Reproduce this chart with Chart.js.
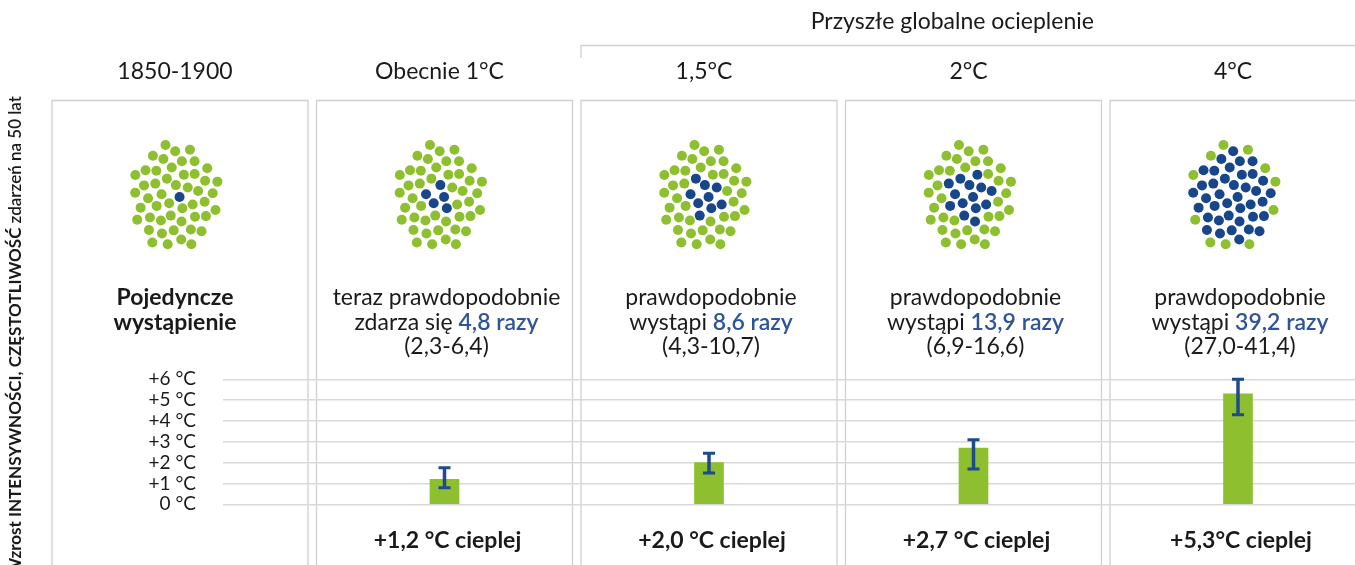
<!DOCTYPE html>
<html lang="pl">
<head>
<meta charset="utf-8">
<script src="https://cdn.jsdelivr.net/npm/chart.js@4.4.1/dist/chart.umd.min.js"></script>
<style>
  html, body { margin: 0; padding: 0; background: #fff; overflow: hidden; }
  #wrap { position: relative; width: 1355px; height: 565px; }
</style>
</head>
<body>
<div id="wrap"><canvas id="chart" width="1355" height="565"></canvas></div>
<script>
// column headers
const periods = ['1850-1900', 'Obecnie 1°C', '1,5°C', '2°C', '4°C'];
// how often a 50-year event occurs (times), with likely range
const frequency = [1, 4.8, 8.6, 13.9, 39.2];
const freqLow = [null, 2.3, 4.3, 6.9, 27.0];
const freqHigh = [null, 6.4, 10.7, 16.6, 41.4];
// blue dots out of 50
const dotsHit = [1, 5, 9, 14, 39];
const dotsTotal = 50;
// increase in intensity (°C)
const barPos = [1, 2, 3, 4];
const warming = [1.2, 2.0, 2.7, 5.3];
const warmingLow = [0.8, 1.5, 1.7, 4.3];
const warmingHigh = [1.75, 2.45, 3.1, 6.0];
const warmingLabels = ['+1,2 °C cieplej', '+2,0 °C cieplej', '+2,7 °C cieplej', '+5,3°C cieplej'];
const yTicks = [0, 1, 2, 3, 4, 5, 6];

const W = 1355, H = 565;
const step = 264.5;        // panel pitch
const firstCenter = 180;   // centre of the first panel
const plotLeft = 223, plotTop = 379.3, plotBottom = 504.3;

const GREEN = '#8dbf2f';
const BLUE_DOT = '#17468a';
const BLUE_TXT = '#2f5597';
const TXT = '#1a1a1a';
const LINE = '#d0d0d0';
const FONT = 'Lato, "Open Sans", sans-serif';

const fmt = v => v.toFixed(1).replace('.', ',');

// sunflower layout for the pictogram, centre first
function dotLayout(n) {
    const pts = [];
    const ga = Math.PI * (3 - Math.sqrt(5));
    for (let k = 0; k < n; k++) {
        const r = 7.0 * Math.sqrt(k + 0.5);
        pts.push([r * Math.cos(k * ga) * 0.92, r * Math.sin(k * ga) * 1.08]);
    }
    return pts;
}
const dots = dotLayout(dotsTotal);

function centerText(ctx, parts, cx, y) {
    // parts: [[text, font, color], ...]
    let total = 0;
    parts.forEach(p => { ctx.font = p[1]; total += ctx.measureText(p[0]).width; });
    let x = cx - total / 2;
    ctx.textAlign = 'left';
    parts.forEach(p => {
        ctx.font = p[1];
        ctx.fillStyle = p[2];
        ctx.fillText(p[0], x, y);
        x += ctx.measureText(p[0]).width;
    });
}

const panelsPlugin = {
    id: 'panels',
    beforeDraw(chart) {
        const ctx = chart.ctx;
        const xs = chart.scales.x;
        ctx.save();

        // panel frames
        ctx.strokeStyle = LINE;
        ctx.lineWidth = 1.3;
        periods.forEach((p, i) => {
            const l = xs.getPixelForValue(i - 0.5) + 4.25;
            const r = xs.getPixelForValue(i + 0.5) - 4.25;
            ctx.beginPath();
            ctx.moveTo(l, H + 2);
            ctx.lineTo(l, 100.5);
            ctx.lineTo(r, 100.5);
            ctx.lineTo(r, H + 2);
            ctx.stroke();
        });

        // bracket over future warming
        const bx = xs.getPixelForValue(1.5) + 4.25;
        ctx.beginPath();
        ctx.moveTo(bx, 58);
        ctx.lineTo(bx, 45.5);
        ctx.lineTo(W + 2, 45.5);
        ctx.stroke();

        ctx.textBaseline = 'alphabetic';
        centerText(ctx, [['Przyszłe globalne ocieplenie', '23px ' + FONT, TXT]], xs.getPixelForValue(2.92), 29);

        const reg = '23px ' + FONT;
        periods.forEach((p, i) => {
            const cx = xs.getPixelForValue(i);
            centerText(ctx, [[p, reg, TXT]], cx - 5, 79);

            // pictogram
            dots.forEach((d, k) => {
                ctx.beginPath();
                ctx.arc(cx - 5 + d[0], 197 + d[1], 5, 0, Math.PI * 2);
                ctx.fillStyle = k < dotsHit[i] ? BLUE_DOT : GREEN;
                ctx.fill();
            });

            if (i === 0) {
                centerText(ctx, [['Pojedyncze', 'bold ' + reg, TXT]], cx - 5, 305);
                centerText(ctx, [['wystąpienie', 'bold ' + reg, TXT]], cx - 5, 330);
            } else {
                const first = i === 1;
                centerText(ctx, [[first ? 'teraz prawdopodobnie' : 'prawdopodobnie', reg, TXT]], cx + 2, 305);
                centerText(ctx, [
                    [first ? 'zdarza się ' : 'wystąpi ', reg, TXT],
                    [fmt(frequency[i]) + ' razy', '600 ' + reg, BLUE_TXT]
                ], cx + 2, 330);
                centerText(ctx, [['(' + fmt(freqLow[i]) + '-' + fmt(freqHigh[i]) + ')', reg, TXT]], cx + 2, 354);
            }
        });

        warmingLabels.forEach((t, i) => {
            centerText(ctx, [[t, 'bold ' + reg, TXT]], xs.getPixelForValue(barPos[i]) + 3, 548);
        });

        // rotated axis title
        const boldF = 'bold 17px ' + FONT, normF = '600 17px ' + FONT;
        const a = 'Wzrost INTENSYWNOŚCI, CZĘSTOTLIWOŚĆ ', b = 'zdarzeń na 50 lat';
        ctx.font = boldF;
        const wa = ctx.measureText(a).width;
        ctx.font = normF;
        const wb = ctx.measureText(b).width;
        ctx.translate(16, 96 + wa + wb);
        ctx.rotate(-Math.PI / 2);
        ctx.textBaseline = 'middle';
        ctx.textAlign = 'left';
        ctx.fillStyle = TXT;
        ctx.font = boldF;
        ctx.fillText(a, 0, 0);
        ctx.font = normF;
        ctx.fillText(b, wa, 0);
        ctx.restore();
    }
};

const errorBarsPlugin = {
    id: 'errorBars',
    afterDatasetsDraw(chart) {
        const ctx = chart.ctx;
        const ys = chart.scales.y;
        const meta = chart.getDatasetMeta(0);
        ctx.save();
        ctx.strokeStyle = '#1d4b8c';
        meta.data.forEach((bar, i) => {
            const top = ys.getPixelForValue(warmingHigh[i]);
            const bot = ys.getPixelForValue(warmingLow[i]);
            ctx.lineWidth = 3.5;
            ctx.beginPath();
            ctx.moveTo(bar.x, top);
            ctx.lineTo(bar.x, bot);
            ctx.stroke();
            ctx.lineWidth = 3;
            ctx.beginPath();
            ctx.moveTo(bar.x - 6, top);
            ctx.lineTo(bar.x + 6, top);
            ctx.moveTo(bar.x - 6, bot);
            ctx.lineTo(bar.x + 6, bot);
            ctx.stroke();
        });
        ctx.restore();
    }
};

function initChart() {
    const ctx = document.getElementById('chart').getContext('2d');
    window.chartx = new Chart(ctx, {
        type: 'bar',
        data: {
            datasets: [{
                data: barPos.map((x, i) => ({ x: x, y: warming[i] })),
                backgroundColor: GREEN,
                borderWidth: 0,
                barThickness: 29,
            }],
        },
        options: {
            responsive: false,
            animation: false,
            layout: { padding: { top: plotTop, bottom: H - plotBottom, left: 0, right: 0 } },
            plugins: { legend: { display: false }, tooltip: { enabled: false } },
            scales: {
                x: {
                    type: 'linear',
                    display: false,
                    offset: false,
                    min: (plotLeft - firstCenter) / step,
                    max: (W - firstCenter) / step,
                },
                y: {
                    min: yTicks[0],
                    max: yTicks[yTicks.length - 1],
                    afterFit: s => { s.width = plotLeft; },
                    afterBuildTicks: s => { s.ticks = yTicks.map(v => ({ value: v })); },
                    border: { display: false },
                    grid: { color: '#d9d9d9', lineWidth: 1.5, drawTicks: false },
                    ticks: {
                        autoSkip: false,
                        padding: 27,
                        color: TXT,
                        font: { family: FONT, size: 19 },
                        callback: v => (v > 0 ? '+' : '') + v + ' °C',
                    },
                },
            },
        },
        plugins: [panelsPlugin, errorBarsPlugin],
    });
}

document.fonts.load('23px Lato').then(initChart, initChart);
</script>
</body>
</html>
